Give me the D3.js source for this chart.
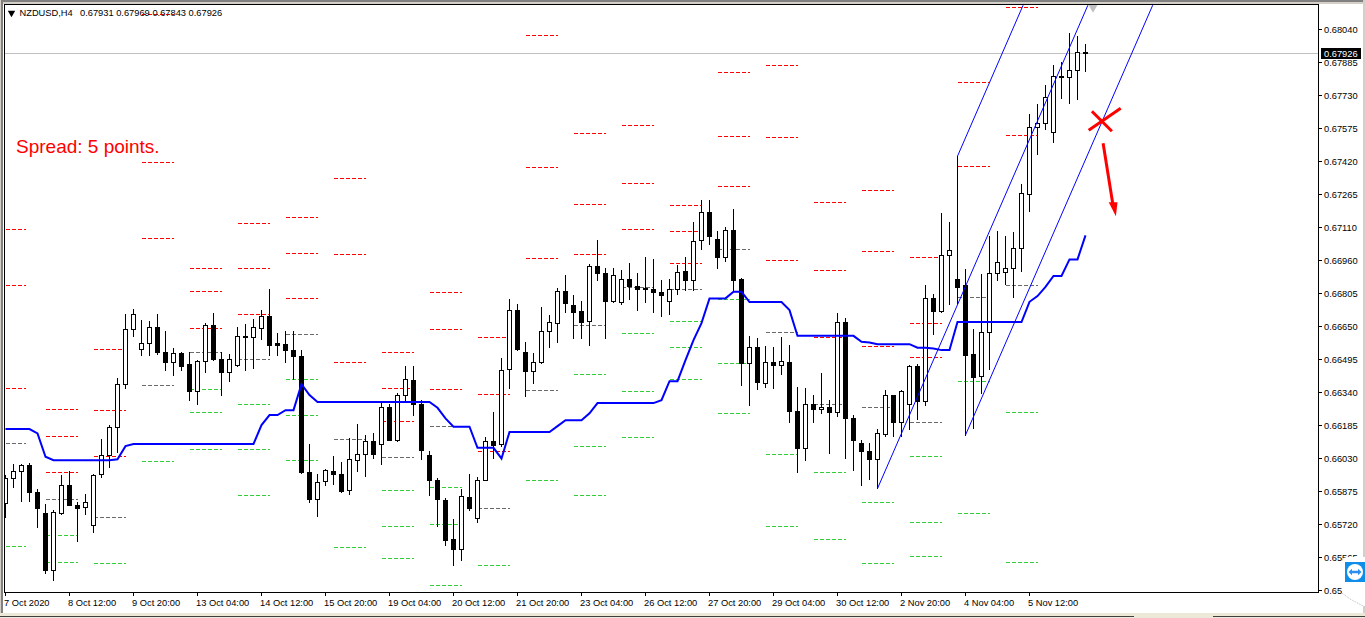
<!DOCTYPE html>
<html><head><meta charset="utf-8">
<style>
html,body{margin:0;padding:0;background:#fff;overflow:hidden}
text{font-family:"Liberation Sans",Arial,sans-serif;font-size:9.3px;fill:#000}
</style>
<script src="https://cdn.jsdelivr.net/npm/d3@7/dist/d3.min.js"></script>
</head><body><svg id="c" width="1365" height="618"></svg>
<script>
const symbol = "NZDUSD,H4";
const note = "Spread: 5 points.";
const opens = [0.65813,0.65930,0.65963,0.65992,0.65865,0.65766,0.65497,0.65765,0.65898,0.65804,
0.65794,0.65710,0.65949,0.66037,0.66170,0.66372,0.66630,0.66536,0.66565,0.66640,
0.66522,0.66475,0.66518,0.66466,0.66339,0.66480,0.66649,0.66489,0.66428,0.66461,
0.66597,0.66593,0.66635,0.66691,0.66565,0.66560,0.66532,0.66504,0.65959,0.65832,
0.65916,0.65963,0.65949,0.65873,0.66014,0.66043,0.66104,0.66090,0.66266,0.66111,
0.66319,0.66391,0.66278,0.66039,0.65921,0.65829,0.65644,0.65596,0.65841,0.65743,
0.65921,0.66104,0.66089,0.66441,0.66720,0.66522,0.66432,0.66474,0.66621,0.66659,
0.66809,0.66743,0.66715,0.66668,0.66926,0.66893,0.66762,0.66757,0.66865,0.66832,
0.66825,0.66818,0.66804,0.66762,0.66818,0.66903,0.66859,0.67047,0.67180,0.67053,
0.66967,0.67096,0.66865,0.66469,0.66546,0.66377,0.66476,0.66461,0.66476,0.66245,
0.66070,0.66278,0.66253,0.66264,0.66241,0.66663,0.66212,0.66095,0.66057,0.66020,
0.66136,0.66321,0.66194,0.66278,0.66457,0.66292,0.66776,0.66715,0.66978,0.66868,
0.66839,0.66515,0.66412,0.66619,0.66896,0.66900,0.66919,0.67013,0.67267,0.67581,
0.67600,0.67558,0.67820,0.67816,0.67849,0.67931];
const highs = [0.65946,0.65998,0.65998,0.66001,0.65879,0.65808,0.65782,0.65946,0.65965,0.65818,
0.65857,0.65949,0.66115,0.66181,0.66402,0.66702,0.66724,0.66674,0.66669,0.66702,
0.66623,0.66541,0.66522,0.66521,0.66486,0.66659,0.66705,0.66522,0.66514,0.66640,
0.66655,0.66677,0.66721,0.66818,0.66612,0.66623,0.66623,0.66533,0.66092,0.65951,
0.65974,0.66035,0.66004,0.66118,0.66186,0.66134,0.66142,0.66286,0.66278,0.66330,
0.66458,0.66458,0.66299,0.66059,0.65931,0.65837,0.65740,0.65879,0.65951,0.65937,
0.66123,0.66242,0.66494,0.66773,0.66749,0.66571,0.66518,0.66734,0.66698,0.66823,
0.66886,0.66792,0.66764,0.66937,0.67050,0.66919,0.66919,0.66909,0.66942,0.66895,
0.66970,0.66961,0.66862,0.66867,0.66933,0.66970,0.67133,0.67238,0.67238,0.67091,
0.67110,0.67196,0.66872,0.66599,0.66588,0.66552,0.66546,0.66593,0.66557,0.66360,
0.66353,0.66322,0.66425,0.66297,0.66707,0.66684,0.66228,0.66111,0.66097,0.66162,
0.66346,0.66322,0.66346,0.66463,0.66468,0.66839,0.66797,0.67177,0.67135,0.67445,
0.66915,0.66633,0.66891,0.67070,0.67093,0.67070,0.67088,0.67314,0.67643,0.67690,
0.67779,0.67873,0.67887,0.68023,0.68009,0.67969];
const lows = [0.65747,0.65887,0.65821,0.65821,0.65703,0.65487,0.65453,0.65761,0.65802,0.65633,
0.65763,0.65675,0.65934,0.65981,0.66053,0.66356,0.66596,0.66510,0.66510,0.66513,
0.66439,0.66413,0.66439,0.66295,0.66280,0.66427,0.66486,0.66322,0.66385,0.66458,
0.66436,0.66446,0.66585,0.66510,0.66510,0.66474,0.66395,0.65954,0.65816,0.65754,
0.65896,0.65904,0.65866,0.65857,0.65962,0.65942,0.66026,0.65998,0.66108,0.66106,
0.66291,0.66228,0.66021,0.65852,0.65704,0.65617,0.65520,0.65544,0.65779,0.65722,
0.65920,0.66023,0.66082,0.66356,0.66533,0.66314,0.66375,0.66469,0.66547,0.66571,
0.66709,0.66587,0.66587,0.66557,0.66859,0.66587,0.66756,0.66749,0.66773,0.66718,
0.66756,0.66709,0.66693,0.66702,0.66793,0.66815,0.66812,0.67008,0.67031,0.66919,
0.66952,0.66807,0.66366,0.66275,0.66350,0.66360,0.66355,0.66421,0.66195,0.65957,
0.66017,0.66192,0.66234,0.66050,0.66223,0.66023,0.65970,0.65899,0.65924,0.65884,
0.66126,0.66130,0.66126,0.66159,0.66209,0.66275,0.66605,0.66712,0.66750,0.66755,
0.66135,0.66168,0.66332,0.66445,0.66863,0.66844,0.66783,0.66905,0.67187,0.67455,
0.67572,0.67511,0.67718,0.67694,0.67713,0.67843];
const closes = [0.65930,0.65963,0.65992,0.65863,0.65790,0.65497,0.65769,0.65898,0.65805,0.65788,
0.65818,0.65945,0.66037,0.66170,0.66372,0.66630,0.66701,0.66565,0.66640,0.66521,
0.66475,0.66518,0.66455,0.66339,0.66480,0.66649,0.66489,0.66427,0.66489,0.66597,
0.66591,0.66640,0.66691,0.66558,0.66558,0.66530,0.66502,0.65957,0.65832,0.65912,
0.65968,0.65948,0.65868,0.66020,0.66043,0.66104,0.66042,0.66264,0.66111,0.66320,
0.66396,0.66278,0.66061,0.65920,0.65830,0.65641,0.65596,0.65846,0.65788,0.65921,
0.66104,0.66087,0.66438,0.66720,0.66537,0.66432,0.66474,0.66621,0.66663,0.66809,
0.66751,0.66713,0.66666,0.66926,0.66892,0.66760,0.66884,0.66865,0.66831,0.66817,
0.66817,0.66803,0.66789,0.66818,0.66898,0.66859,0.67044,0.67180,0.67070,0.66967,
0.67096,0.66862,0.66469,0.66546,0.66380,0.66476,0.66460,0.66480,0.66244,0.66070,
0.66278,0.66253,0.66264,0.66239,0.66663,0.66211,0.66108,0.66056,0.66018,0.66142,
0.66321,0.66194,0.66339,0.66457,0.66291,0.66776,0.66714,0.66978,0.67002,0.66830,
0.66511,0.66407,0.66619,0.66896,0.66947,0.66919,0.67013,0.67271,0.67581,0.67600,
0.67722,0.67821,0.67815,0.67849,0.67934,0.67926];
const maLine = [0.66163,0.66163,0.66163,0.66163,0.66143,0.66033,0.66017,0.66017,0.66017,0.66017,
0.66017,0.66017,0.66017,0.66017,0.66021,0.66083,0.66093,0.66093,0.66093,0.66093,
0.66093,0.66093,0.66093,0.66093,0.66093,0.66093,0.66093,0.66093,0.66093,0.66093,
0.66093,0.66093,0.66182,0.66229,0.66229,0.66252,0.66252,0.66374,0.66323,0.66290,
0.66290,0.66290,0.66290,0.66290,0.66290,0.66290,0.66290,0.66290,0.66290,0.66290,
0.66290,0.66290,0.66290,0.66290,0.66263,0.66213,0.66174,0.66174,0.66174,0.66075,
0.66075,0.66075,0.66025,0.66149,0.66149,0.66149,0.66149,0.66149,0.66149,0.66177,
0.66205,0.66205,0.66205,0.66237,0.66285,0.66285,0.66285,0.66285,0.66285,0.66285,
0.66285,0.66285,0.66299,0.66388,0.66388,0.66487,0.66581,0.66661,0.66777,0.66777,
0.66777,0.66808,0.66808,0.66760,0.66760,0.66760,0.66760,0.66760,0.66722,0.66601,
0.66601,0.66601,0.66601,0.66601,0.66601,0.66601,0.66601,0.66573,0.66570,0.66562,
0.66562,0.66562,0.66562,0.66562,0.66545,0.66545,0.66542,0.66534,0.66534,0.66666,
0.66666,0.66666,0.66666,0.66666,0.66666,0.66666,0.66666,0.66666,0.66761,0.66788,
0.66831,0.66882,0.66882,0.66960,0.66960,0.67073];
const dayStart = [0,5,11,17,23,29,35,41,47,53,59,65,71,77,83,89,95,101,107,113,119,125];
const dayEnd   = [2.6,9,15,21,27,33,39,45,51,57,63,69,75,81,87,93,99,105,111,117,123,129];
const redLevels = [[0.67102,0.66839,0.66355],[0.66257,0.66130,0.65961],[0.66539,0.66252,0.66036],[0.68112,0.67417,0.67060],
[0.66919,0.66811,0.66637],[0.67131,0.66919,0.66703],[0.67159,0.66990,0.66778],[0.67342,0.66985,0.66478],
[0.66525,0.66355,0.66201],[0.66806,0.66633,0.66351],[0.66595,0.66327,0.66060],[0.68014,0.67394,0.66966],
[0.67553,0.67220,0.66985],[0.67591,0.67318,0.67102],[0.67215,0.67093,0.66943],[0.67840,0.67539,0.67304],
[0.67873,0.67535,0.66957],[0.67229,0.66910,0.66595],[0.67286,0.66999,0.66553],[0.66971,0.66661,0.66501],
[0.67793,0.67398],[0.68145,0.67544]];
const pivotLevels = [0.66093,0.65834,0.65750,0.66370,0.66525,0.66492,0.66609,0.66116,0.66031,0.66177,0.65792,
0.66346,0.66651,0.66830,0.66821,0.67008,0.66619,0.66280,0.66266,0.66196,0.66783,0.66839];
const greenLevels = [[0.65613],[0.65665,0.65538],[0.65534],[0.66013],
[0.66351,0.66243,0.66069],[0.66280,0.66069,0.65853],[0.66398,0.66229,0.66017],[0.65609],
[0.65876,0.65707,0.65557],[0.65891,0.65717,0.65430],[0.65524],[0.65923],
[0.66421,0.66083,0.65853],[0.66614,0.66341,0.66125],[0.66670,0.66548,0.66398],[0.66774,0.66473,0.66238],
[0.66046,0.65707],[0.65961,0.65646],[0.65820,0.65534],[0.66036,0.65726,0.65566],
[0.66388,0.65768],[0.66243,0.65538]];
const channelMid   = [[109,0.65884],[135.3,0.68154]];
const channelUpper = [[119,0.67445],[127.2,0.68154]];
const channelLower = [[120,0.66135],[143.4,0.68154]];
const crossA = [[135.4,0.67567],[139.4,0.67670]];
const crossB = [[135.8,0.67656],[138.3,0.67562]];
const arrowShaft = [[137.2,0.67506],[138.4,0.67224]];
const arrowHead = [[138.8,0.67163],[137.9,0.67229],[139,0.67229]];
const priceTicks = [0.68040,0.67885,0.67730,0.67575,0.67420,0.67265,0.67110,0.66955,0.66800,0.66645,0.66490,0.66335,0.66180,0.66025,0.65870,0.65715,0.65560,0.65405];
const priceLabels = ["0.68040","0.67885","0.67730","0.67575","0.67420","0.67265","0.67110","0.66960","0.66805","0.66650","0.66495","0.66340","0.66185","0.66030","0.65875","0.65720","0.65565","0.65410"];
const timeTicks = [0,8,16,24,32,40,48,56,64,72,80,88,96,104,112,120,128];
const timeLabels = ["7 Oct 2020","8 Oct 12:00","9 Oct 20:00","13 Oct 04:00","14 Oct 12:00","15 Oct 20:00","19 Oct 04:00","20 Oct 12:00","21 Oct 20:00","23 Oct 04:00","26 Oct 12:00","27 Oct 20:00","29 Oct 04:00","30 Oct 12:00","2 Nov 20:00","4 Nov 04:00","5 Nov 12:00"];

const svg = d3.select("#c");
const x = d3.scaleLinear().domain([0,135]).range([5.5,1085.5]);
const y = d3.scaleLinear().domain([0.6804,0.6541]).range([29.5,589.4]);
const snap = v => Math.floor(v)+0.5;
const L=4.5,T=4.5,R=1318.5,B=592.5;

// window chrome
svg.append("rect").attr("x",0).attr("y",0).attr("width",1365).attr("height",2).attr("fill","#808080");
svg.append("rect").attr("x",0).attr("y",2).attr("width",1365).attr("height",2).attr("fill","#d4d0c8");
svg.append("rect").attr("x",0).attr("y",0).attr("width",1).attr("height",618).attr("fill","#d4d0c8");
svg.append("rect").attr("x",1).attr("y",0).attr("width",2).attr("height",618).attr("fill","#808080");
svg.append("rect").attr("x",1363).attr("y",0).attr("width",2).attr("height",618).attr("fill","#d4d0c8");
svg.append("rect").attr("x",0).attr("y",613).attr("width",1365).attr("height",5).attr("fill","#ece9d8");
svg.append("rect").attr("x",0).attr("y",616).attr("width",1134).attr("height",1).attr("fill","#404040");
svg.append("rect").attr("x",1213).attr("y",616).attr("width",152).attr("height",1).attr("fill","#404040");

svg.append("defs").append("clipPath").attr("id","plot").append("rect")
  .attr("x",5).attr("y",5).attr("width",R-5).attr("height",B-5);
const g = svg.append("g").attr("clip-path","url(#plot)");

// pivot levels
function level(p,day,col){
  g.append("line").attr("x1",x(dayStart[day])).attr("x2",x(dayEnd[day]))
   .attr("y1",snap(y(p))).attr("y2",snap(y(p)))
   .attr("stroke",col).attr("stroke-width",1).attr("stroke-dasharray","4 2").attr("shape-rendering","crispEdges");
}
redLevels.forEach((a,d)=>a.forEach(p=>level(p,d,"#ff0000")));
pivotLevels.forEach((p,d)=>level(p,d,"#696969"));
greenLevels.forEach((a,d)=>a.forEach(p=>level(p,d,"#32cd32")));

// bid line
g.append("line").attr("x1",L).attr("x2",R).attr("y1",snap(y(closes[135]))).attr("y2",snap(y(closes[135])))
 .attr("stroke","#c0c0c0").attr("shape-rendering","crispEdges");

// candles
const bars = d3.range(opens.length);
g.selectAll("line.w").data(bars).join("line").attr("class","w")
 .attr("x1",i=>x(i)).attr("x2",i=>x(i)).attr("y1",i=>snap(y(highs[i]))-.5).attr("y2",i=>snap(y(lows[i]))+.5)
 .attr("stroke","#000").attr("shape-rendering","crispEdges");
g.selectAll("rect.b").data(bars).join("rect").attr("class","b")
 .attr("x",i=>x(i)-2).attr("width",4)
 .attr("y",i=>snap(y(Math.max(opens[i],closes[i]))))
 .attr("height",i=>Math.max(0,snap(y(Math.min(opens[i],closes[i])))-snap(y(Math.max(opens[i],closes[i])))))
 .attr("fill",i=>closes[i]<opens[i]?"#000":"#fff").attr("stroke","#000").attr("stroke-width",1)
 .attr("shape-rendering","crispEdges");

// blue line
const ln = d3.line().x((d,i)=>x(i)).y(d=>y(d));
g.append("path").attr("d",ln(maLine)).attr("fill","none").attr("stroke","#0000ff").attr("stroke-width",2);

// channel
const lp = d3.line().x(d=>x(d[0])).y(d=>y(d[1]));
[channelMid,channelUpper,channelLower].forEach(c=>{
  g.append("path").attr("d",lp(c)).attr("fill","none").attr("stroke","#0000ff").attr("stroke-width",1);
});

// drawn marks
[crossA,crossB,arrowShaft].forEach(c=>{
  g.append("path").attr("d",lp(c)).attr("fill","none").attr("stroke","#ff0000").attr("stroke-width",3);
});
g.append("path").attr("d",lp(arrowHead)+"Z").attr("fill","#ff0000");

// ask marker
g.append("path").attr("d",d3.symbol().type(d3.symbolTriangle).size(60)()).attr("fill","#c0c0c0")
 .attr("transform",`translate(${x(136)-0.5},6) rotate(180)`);

// texts
svg.append("path").attr("d",d3.symbol().type(d3.symbolTriangle).size(24)()).attr("fill","#000").attr("transform","translate(11.5,13) rotate(180)");
svg.append("text").attr("x",19.5).attr("y",16).text(symbol);
svg.append("text").attr("x",80).attr("y",16).text([opens[135],highs[135],lows[135],closes[135]].map(v=>v.toFixed(5)).join(" "));
svg.append("text").attr("x",16).attr("y",153).style("font-size","19px").style("fill","#ff0000").text(note);

// plot frame
svg.append("path").attr("d",`M${L},${B}V${T}H${R}V${B}H${L}`).attr("fill","none").attr("stroke","#000").attr("shape-rendering","crispEdges");

// axes
const yAxis = d3.axisRight(y).tickValues(priceTicks).tickSize(3).tickPadding(2).offset(0)
  .tickFormat((d,i)=>priceLabels[i]);
const ya = svg.append("g").attr("transform",`translate(${R},0)`).call(yAxis);
ya.select(".domain").remove();
ya.selectAll("line").attr("stroke","#000").attr("shape-rendering","crispEdges");
ya.selectAll("text").attr("x",5.5).attr("dy",null).attr("y",3.5).style("font-family",'"Liberation Sans"').style("font-size","9.3px");

const xAxis = d3.axisBottom(x).tickValues(timeTicks).tickSize(3).offset(0).tickFormat((d,i)=>timeLabels[i]);
const xa = svg.append("g").attr("transform",`translate(0,${B})`).call(xAxis);
xa.select(".domain").remove();
xa.selectAll("line").attr("stroke","#000").attr("shape-rendering","crispEdges");
xa.selectAll("text").attr("text-anchor","start").attr("x",-1.5).attr("dy",null).attr("y",13.5).style("font-family",'"Liberation Sans"').style("font-size","9.3px");

// current price tag
svg.append("rect").attr("x",1321).attr("y",48).attr("width",40).attr("height",11).attr("fill","#000");
svg.append("text").attr("x",1324).attr("y",57).style("fill","#fff").text(closes[135].toFixed(5));

// remote-support badge
svg.append("path").attr("d","M1348,557H1365V607L1350,599L1342,593V563Q1342,557 1348,557Z").attr("fill","#fff");
svg.append("path").attr("d","M1342,593L1350,599L1365,607").attr("fill","none").attr("stroke","#bbb").attr("stroke-dasharray","1 1");
svg.append("rect").attr("x",1345).attr("y",562).attr("width",20).attr("height",20).attr("fill","#0e8ee9");
svg.append("circle").attr("cx",1355).attr("cy",572).attr("r",8).attr("fill","#fff");
svg.append("path").attr("d","M1348.5,572L1352,568.8V570.8H1358V568.8L1361.5,572L1358,575.2V573.2H1352V575.2Z").attr("fill","#2a8ff0");
</script></body></html>
